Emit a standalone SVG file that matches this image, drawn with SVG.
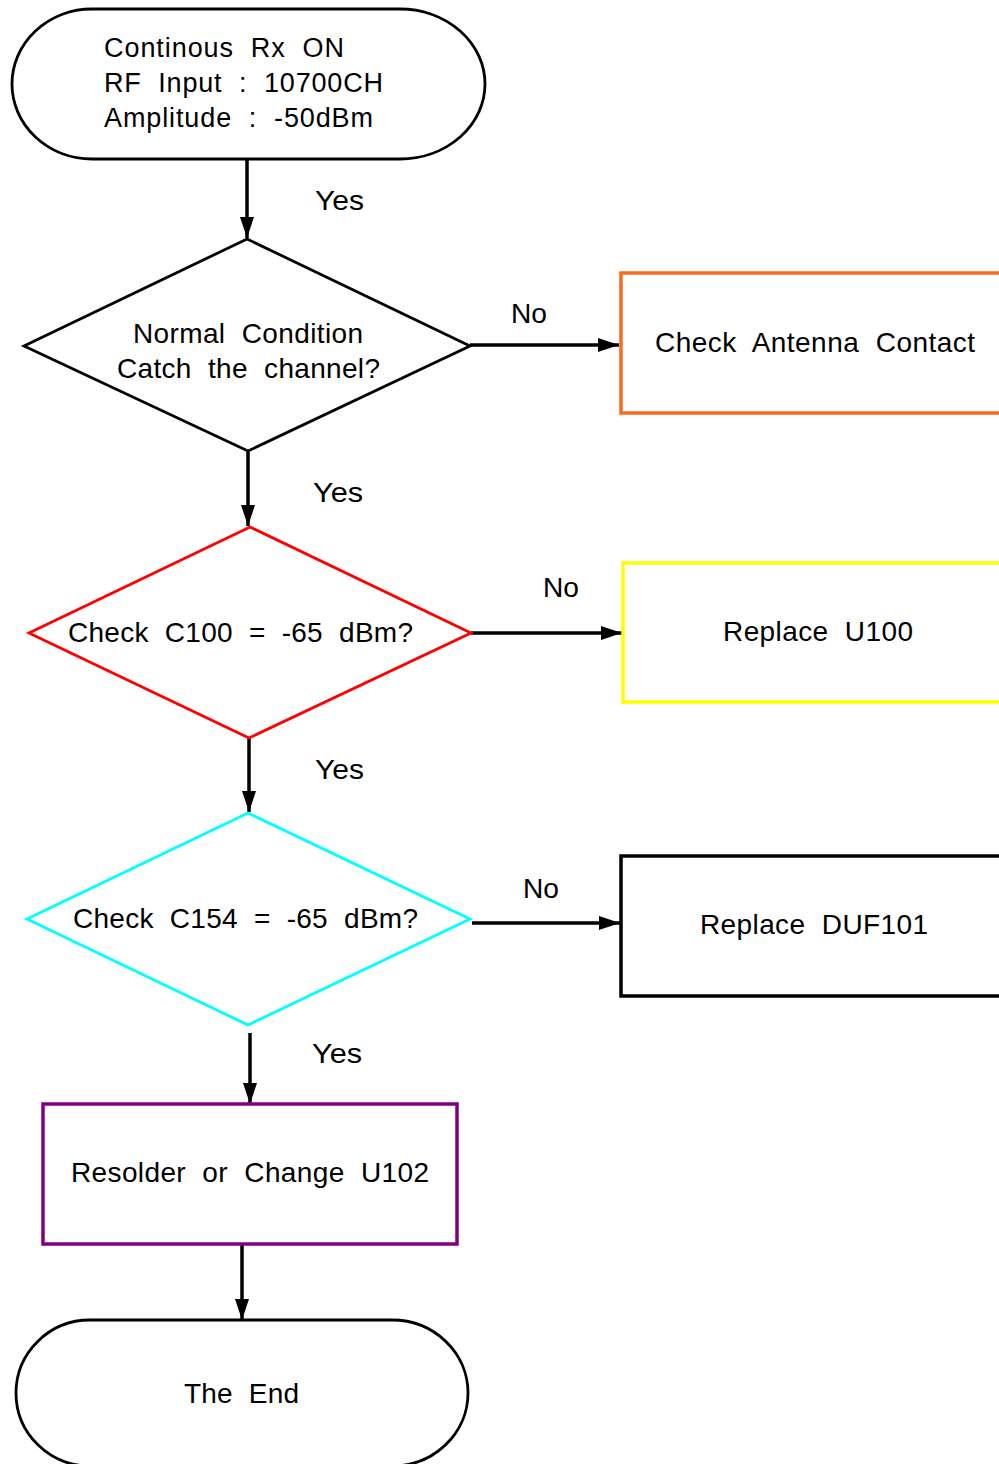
<svg xmlns="http://www.w3.org/2000/svg" width="999" height="1464" viewBox="0 0 999 1464">
<style>
text{font-family:"Liberation Sans",Arial,sans-serif;font-size:28px;fill:#000;white-space:pre}
.t{font-size:27px}
.conn{stroke:#000;stroke-width:3.5;fill:none}
.shape{fill:#fff;stroke-width:2.8}
.box{fill:#fff;stroke-width:3.5}
</style>
<defs>
<marker id="ah" markerUnits="userSpaceOnUse" markerWidth="21" markerHeight="14" refX="21" refY="7" orient="auto">
<path d="M0,0 L21,7 L0,14 Z" fill="#000"/>
</marker>
</defs>
<rect width="999" height="1464" fill="#fff"/>
<g id="connectors">
<line class="conn" x1="247" y1="160" x2="247" y2="238" marker-end="url(#ah)"/>
<line class="conn" x1="248" y1="451" x2="248" y2="526" marker-end="url(#ah)"/>
<line class="conn" x1="249" y1="738" x2="249" y2="812" marker-end="url(#ah)"/>
<line class="conn" x1="250" y1="1033" x2="250" y2="1104" marker-end="url(#ah)"/>
<line class="conn" x1="242" y1="1244" x2="242" y2="1320" marker-end="url(#ah)"/>
<line class="conn" x1="470" y1="345" x2="619" y2="345" marker-end="url(#ah)"/>
<line class="conn" x1="471" y1="633" x2="622" y2="633" marker-end="url(#ah)"/>
<line class="conn" x1="472" y1="923" x2="620" y2="923" marker-end="url(#ah)"/>
<text x="315" y="210" textLength="49" lengthAdjust="spacingAndGlyphs">Yes</text>
<text x="313" y="502" textLength="50" lengthAdjust="spacingAndGlyphs">Yes</text>
<text x="315" y="779" textLength="49" lengthAdjust="spacingAndGlyphs">Yes</text>
<text x="312" y="1063" textLength="50" lengthAdjust="spacingAndGlyphs">Yes</text>
<text x="511" y="323" textLength="36" lengthAdjust="spacingAndGlyphs">No</text>
<text x="543" y="597" textLength="36" lengthAdjust="spacingAndGlyphs">No</text>
<text x="523" y="898" textLength="36" lengthAdjust="spacingAndGlyphs">No</text>
</g>
<g id="start">
<path class="shape" stroke="#000" d="M92 9 H400 A85 75 0 0 1 400 159 H92 A80 75 0 0 1 92 9 Z"/>
<text class="t" x="104" y="57" textLength="240" lengthAdjust="spacing">Continous  Rx  ON</text>
<text class="t" x="104" y="92" textLength="279" lengthAdjust="spacing">RF  Input  :  10700CH</text>
<text class="t" x="104" y="127" textLength="269" lengthAdjust="spacing">Amplitude  :  -50dBm</text>
</g>
<g id="decision1">
<polygon class="shape" stroke="#000" points="247,239 470,346 248,451 24,346"/>
<text x="133" y="343" textLength="230" lengthAdjust="spacing">Normal  Condition</text>
<text x="117" y="378" textLength="263" lengthAdjust="spacing">Catch  the  channel?</text>
</g>
<g id="antenna">
<rect class="box" stroke="#FA6B1E" x="621" y="273" width="400" height="140"/>
<text x="655" y="352" textLength="320" lengthAdjust="spacing">Check  Antenna  Contact</text>
</g>
<g id="decision2">
<polygon class="shape" stroke="#FF0000" points="250,527 471,633 249,738 29,633"/>
<text x="68" y="642" textLength="345" lengthAdjust="spacing">Check  C100  =  -65  dBm?</text>
</g>
<g id="u100">
<rect class="box" stroke="#FFFF00" x="623" y="563" width="400" height="139"/>
<text x="723" y="641" textLength="190" lengthAdjust="spacing">Replace  U100</text>
</g>
<g id="decision3">
<polygon class="shape" stroke="#00FFFF" points="248,813 470,919 248,1025 27,919"/>
<text x="73" y="928" textLength="345" lengthAdjust="spacing">Check  C154  =  -65  dBm?</text>
</g>
<g id="duf101">
<rect class="box" stroke="#000" x="621" y="856" width="400" height="140"/>
<text x="700" y="934" textLength="228" lengthAdjust="spacing">Replace  DUF101</text>
</g>
<g id="u102">
<rect class="box" stroke="#800080" x="43" y="1104" width="414" height="140"/>
<text x="71" y="1182" textLength="358" lengthAdjust="spacing">Resolder  or  Change  U102</text>
</g>
<g id="end">
<path class="shape" stroke="#000" d="M90 1320 H392 A76 73 0 0 1 392 1466 H90 A74 73 0 0 1 90 1320 Z"/>
<text x="184" y="1403" textLength="115" lengthAdjust="spacing">The  End</text>
</g>
</svg>
